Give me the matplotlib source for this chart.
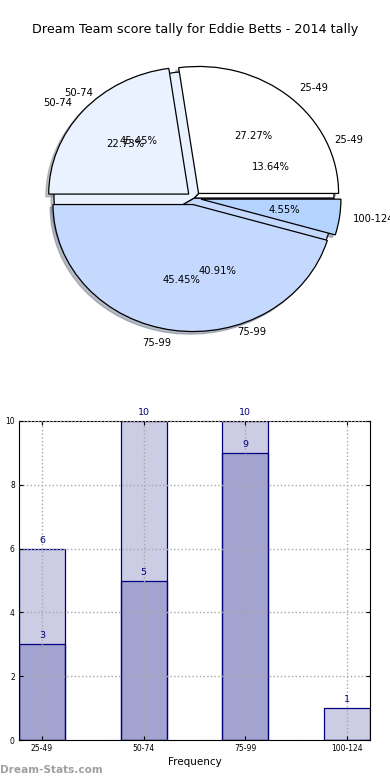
import matplotlib
matplotlib.use('Agg')
import matplotlib.pyplot as plt
import numpy as np

# data
categories = ['25-49', '50-74', '75-99', '100-124']
tally_total = [6, 10, 10, 1]
tally_dream = [3, 5, 9, 0]

# the two overlaid pies (counts out of 22 games)
pie_top_vals = [6, 5, 10, 1]
pie_top_labels = ['25-49', '50-74', '75-99', '100-124']
pie_under_vals = [3, 10, 9]
pie_under_labels = ['25-49', '50-74', '75-99']

pie_colors = ['#ffffff', '#eaf1ff', '#c5d9ff', '#b4d4ff']

plt.rcParams['font.family'] = 'DejaVu Sans'

fig = plt.figure(figsize=(3.9, 7.8), dpi=100)

fig.text(0.5, 1 - 30 / 780, 'Dream Team score tally for Eddie Betts - 2014 tally',
         ha='center', va='center', fontsize=9.2)

# pie part
ax1 = fig.add_axes([19 / 390, (780 - 357) / 780, 350 / 390, 317.5 / 780])
wedge_kw = {'edgecolor': 'black', 'linewidth': 0.9}
shadow_kw = {'ox': -0.015, 'oy': -0.015, 'shade': 0.45}
ax1.pie(pie_under_vals, labels=pie_under_labels, colors=pie_colors[:3],
        autopct='%.2f%%', shadow=shadow_kw, wedgeprops=wedge_kw,
        textprops={'fontsize': 7.2})
ax1.pie(pie_top_vals, labels=pie_top_labels, colors=pie_colors,
        autopct='%.2f%%', explode=[0.05] * 4, shadow=shadow_kw, wedgeprops=wedge_kw,
        textprops={'fontsize': 7.2})
ax1.set_aspect('auto')
ax1.set_xlim(-1.25, 1.25)
ax1.set_ylim(-1.25, 1.25)
ax1.axis('off')

# bar part
ax2 = fig.add_axes([19 / 390, 40 / 780, 351 / 390, 319 / 780])
x = np.arange(len(categories))
width = 0.45
ax2.bar(x, tally_total, width, color='navy', alpha=0.2)
ax2.bar(x, tally_total, width, facecolor='none', edgecolor='navy', linewidth=0.9)
ax2.bar(x, tally_dream, width, color='navy', alpha=0.2)
ax2.bar(x, tally_dream, width, facecolor='none', edgecolor='navy', linewidth=0.9)

for xi, v in zip(x, tally_total):
    ax2.text(xi, v + 0.12, str(v), ha='center', va='bottom', color='navy', fontsize=6.8)
for xi, v in zip(x, tally_dream):
    if v > 0:
        ax2.text(xi, v + 0.12, str(v), ha='center', va='bottom', color='navy', fontsize=6.8)

ax2.set_xlim(-width / 2, len(categories) - 1 + width / 2)
ax2.set_ylim(0, 10)
ax2.set_yticks(range(0, 11, 2))
ax2.set_xticks(x)
ax2.set_xticklabels(categories)
ax2.tick_params(direction='in', top=True, right=True, labelsize=5.5, length=3, pad=3)
ax2.grid(True, color='#a8a8a8', linestyle=':', linewidth=1)
ax2.set_axisbelow(False)
ax2.set_xlabel('Frequency', fontsize=7.5, labelpad=3)
ax2.set_ylabel('Score Interval', fontsize=7.5, labelpad=12)

fig.text(0.0, 1 - 770 / 780, 'Dream-Stats.com', ha='left', va='center',
         fontsize=7.6, color='#a0a0a0', fontweight='bold')

fig.savefig('out.png', dpi=100)
